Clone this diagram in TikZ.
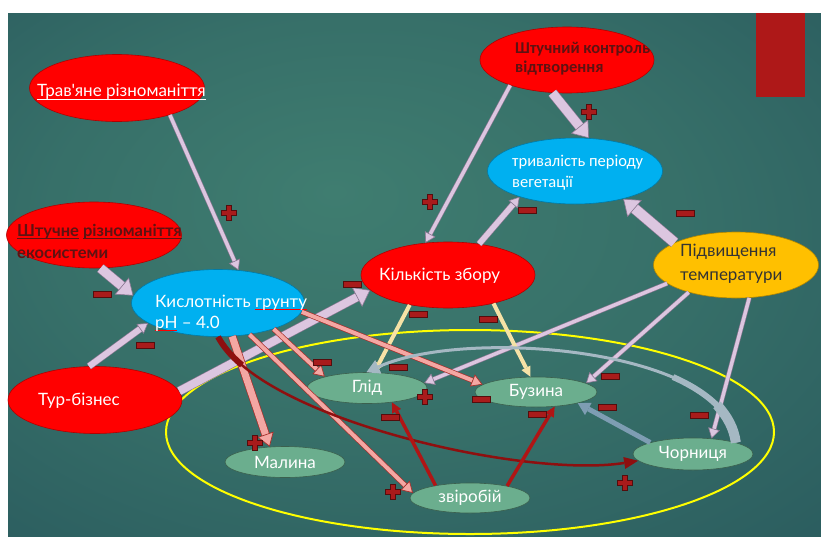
\documentclass[tikz,border=0pt]{standalone}
\usepackage{fontspec}
\usetikzlibrary{shapes.geometric,arrows.meta}
\newfontfamily\gothic{Lato}
\newfontfamily\calib{Carlito}

\definecolor{bginner}{HTML}{3F7D70}
\definecolor{bgmid}{HTML}{2A5B5E}
\definecolor{bgouter}{HTML}{163B4A}
\definecolor{ovalred}{HTML}{FF0000}
\definecolor{ovalblue}{HTML}{00B0F0}
\definecolor{ovalgold}{HTML}{FFC000}
\definecolor{ovalgreen}{HTML}{6BAE8E}
\definecolor{lav}{HTML}{DCC6E0}
\definecolor{lavedge}{HTML}{8C7893}
\definecolor{salmon}{HTML}{F4A7A3}
\definecolor{salmonedge}{HTML}{A8302C}
\definecolor{wine}{HTML}{8E0F0F}
\definecolor{brick}{HTML}{B01515}
\definecolor{straw}{HTML}{F6E2A6}
\definecolor{mist}{HTML}{A5B8C3}
\definecolor{steel}{HTML}{7E9DB3}
\definecolor{signred}{HTML}{A81B1B}
\definecolor{maroon}{HTML}{5E1212}
\definecolor{ringyellow}{HTML}{FFFF00}
\definecolor{slidered}{HTML}{AE1818}

\pgfdeclareradialshading{slidebg}{\pgfpoint{-5bp}{8bp}}{color(0bp)=(bginner); color(20bp)=(bginner!60!bgmid); color(40bp)=(bgmid); color(50bp)=(bgouter)}

% underlines: plain one and the red mark of the spell checker
\newcommand\ulword[1]{\setbox0\hbox{#1}\rlap{\rule[-2.5pt]{\wd0}{0.6pt}}\box0{}}
\newcommand\spellmark[1]{\setbox0\hbox{#1}\rlap{\textcolor{red}{\rule[-3pt]{\wd0}{0.8pt}}}\box0{}}

\tikzset{
  oval/.style={ellipse, inner sep=0pt, line width=0.6pt, minimum width=174pt, minimum height=66pt},
  redoval/.style={oval, fill=ovalred, draw=ovalred!70!black},
  blueoval/.style={oval, fill=ovalblue, draw=ovalblue!70!black},
  goldoval/.style={oval, fill=ovalgold, draw=ovalgold!70!black, minimum width=165pt},
  greenoval/.style={ellipse, inner sep=0pt, fill=ovalgreen, draw=ovalgreen!55!black, line width=0.6pt,
    minimum width=120pt, minimum height=31pt, text=white, font=\gothic\fontsize{17}{20}\selectfont},
  gothictext/.style={inner sep=0pt, text=white, align=left, font=\gothic\fontsize{17}{21}\selectfont},
  calibtext/.style={inner sep=0pt, align=left, font=\calib\fontsize{16.5}{21}\selectfont},
  lavthin/.style={draw=lavedge, double=lav, line width=0.6pt, double distance=3.5pt,
    -{Triangle[width=12pt,length=10pt,fill=lav,line width=0.6pt]}},
  lavthick/.style={lavthin, double distance=9pt, -{Triangle[width=22pt,length=15pt,fill=lav,line width=0.6pt]}},
  salmonarrow/.style={draw=salmonedge, double=salmon, line width=0.7pt, double distance=4pt,
    -{Triangle[width=13pt,length=11pt,fill=salmon,line width=0.7pt]}},
  strawarrow/.style={draw=straw, line width=4pt, -{Triangle[width=10pt,length=10pt,line width=0pt]}},
  steelarrow/.style={draw=steel, line width=5pt, -{Triangle[width=14pt,length=12pt,line width=0pt]}},
  brickarrow/.style={draw=brick, line width=3.5pt, -{Triangle[width=10pt,length=10pt,line width=0pt]}},
  winearrow/.style={draw=wine, line width=2.5pt, -{Triangle[width=12pt,length=14pt,line width=0pt]}},
  mistarrow/.style={draw=mist, line width=3pt, -{Triangle[width=15pt,length=13pt,line width=0pt]}},
  plusmark/.pic={\filldraw[fill=signred, draw=signred!50!black, line width=0.5pt]
    (-7.5,-2.5) -- (-2.5,-2.5) -- (-2.5,-7.5) -- (2.5,-7.5) -- (2.5,-2.5) -- (7.5,-2.5)
    -- (7.5,2.5) -- (2.5,2.5) -- (2.5,7.5) -- (-2.5,7.5) -- (-2.5,2.5) -- (-7.5,2.5) -- cycle;},
  minusmark/.pic={\filldraw[fill=signred, draw=signred!50!black, line width=0.5pt]
    (-9,-3) rectangle (9,3);},
}

\begin{document}
\begin{tikzpicture}[x=1pt, y=-1pt]
  \useasboundingbox (0,0) rectangle (821,536);
  \fill[white] (0,0) rectangle (821,536);
  \shade[shading=slidebg] (8,13) rectangle (821,536);
  \fill[slidered] (756,13) rectangle (805,97);

  % the yellow ring round the plants
  \draw[ringyellow, line width=2pt] (470,432) ellipse [x radius=304, y radius=102];

  % factors
  \node[redoval, minimum width=175pt, minimum height=67pt] (trav) at (117,88) {};
  \node[redoval, minimum width=175pt] (shtuchne) at (94,235) {};
  \node[redoval] (kontrol) at (567,60) {};
  \node[blueoval, minimum width=175pt] (tryval) at (575,171) {};
  \node[goldoval] (pidvysh) at (736,265) {};
  \node[blueoval, minimum width=173pt, minimum height=67pt] (kyslot) at (218,303) {};
  \node[redoval] (kilkist) at (448,275) {};
  \node[redoval, minimum height=67pt] (tur) at (95,400) {};

  % plants
  \node[greenoval] (glid) at (367,388) {Глід};
  \node[greenoval, minimum width=122pt, minimum height=30pt] (buzyna) at (536,392) {Бузина};
  \node[greenoval, minimum height=32pt] (chornytsia) at (693,454) {Чорниця};
  \node[greenoval] (malyna) at (285,462) {Малина};
  \node[greenoval, minimum height=30pt] (zvirobii) at (470,498) {звіробій};

  % links
  \draw[lavthin] (trav.-27) -- (kyslot.58);
  \draw[lavthick] (shtuchne.-79) -- (kyslot.175);
  \draw[lavthin, double distance=6pt] (tur.100) -- (kyslot.196);
  \draw[lavthick, double distance=8pt] (tur.6) -- (kilkist.191);
  \draw[lavthin] (kontrol.204) -- (kilkist.125);
  \draw[lavthick] (kontrol.-114) -- (tryval.67);
  \draw[lavthin, double distance=5.5pt] (kilkist.45) -- (tryval.205);
  \draw[lavthick, double distance=10pt] (pidvysh.160) -- (tryval.-30);
  \draw[lavthin] (pidvysh.195) -- (glid.5);
  \draw[lavthin] (pidvysh.210) -- (buzyna.10);
  \draw[lavthin] (pidvysh.-68) -- (chornytsia.40);
  \draw[strawarrow] (kilkist.218) -- (glid.65);
  \draw[strawarrow] (kilkist.-32) -- (buzyna.110);
  \draw[salmonarrow] (kyslot.-6) -- (buzyna.172);
  \draw[salmonarrow] (kyslot.-25) -- (glid.165);
  \draw[salmonarrow] (kyslot.-45) -- (zvirobii.175);
  \draw[salmonarrow, double distance=7pt, -{Triangle[width=17pt,length=13pt,fill=salmon,line width=0.7pt]}] (kyslot.-67) -- (malyna.135);

  % curved links, thicker where they leave their node
  \coordinate (winetail) at (242,365);
  \coordinate (mistbase) at (717,405);
  \coordinate (mistmid) at (673,377);
  \draw[wine, line width=6pt] (kyslot.-90) .. controls (223,346) and (231,356) .. (winetail);
  \draw[winearrow] (kyslot.-90) .. controls +(42,82) and +(-113,18) .. (chornytsia.187);
  \draw[mist, line width=10pt] (chornytsia.15) .. controls (734,429) and (728,417) .. (mistbase);
  \draw[mist, line width=6pt] (chornytsia.15) .. controls (733.5,415) and (709,393) .. (mistmid);
  \draw[mistarrow] (chornytsia.15) .. controls +(-5,-93) and +(102,-46) .. (glid.92);
  \draw[steelarrow] (chornytsia.165) -- (buzyna.-15);
  \draw[brickarrow] (zvirobii.160) -- (glid.-30);
  \draw[brickarrow] (zvirobii.18) -- (buzyna.-38);

  % texts of the factors
  \node[gothictext, anchor=west] (travtext) at (37,92) {\ulword{Трав'яне різноманіття}};
  \node[gothictext, anchor=west, text=maroon, font=\gothic\bfseries\fontsize{16.5}{22}\selectfont]
    (shtuchnetext) at (17,241) {\ulword{Штучне} \ulword{різноманіття}\\екосистеми};
  \node[calibtext, anchor=west, text=maroon, font=\calib\bfseries\fontsize{16.5}{19}\selectfont]
    (kontroltext) at (515,59) {Штучний контроль\\відтворення};
  \node[calibtext, anchor=west, text=white] (tryvaltext) at (512,173) {тривалість періоду\\вегетації};
  \node[gothictext, anchor=west, text=black!80, font=\gothic\fontsize{17}{24}\selectfont]
    (pidvyshtext) at (680,264) {Підвищення\\ температури};
  \node[gothictext, anchor=west] (kyslottext) at (155,313) {Кислотність \spellmark{грунту}\\\spellmark{pH} – 4.0};
  \node[gothictext, anchor=west] (kilkisttext) at (379,276) {Кількість збору};
  \node[gothictext, anchor=west] (turtext) at (38,401) {Тур-бізнес};

  % signs
  \pic at (229,213) {plusmark};
  \pic at (430,202) {plusmark};
  \pic at (589,112) {plusmark};
  \pic at (425,397) {plusmark};
  \pic at (393,492) {plusmark};
  \pic at (255,443) {plusmark};
  \pic at (625,483) {plusmark};
  \pic at (102,294) {minusmark};
  \pic at (145,345) {minusmark};
  \pic at (352,284) {minusmark};
  \pic at (527,210) {minusmark};
  \pic at (685,213) {minusmark};
  \pic at (610,376) {minusmark};
  \pic at (699,415) {minusmark};
  \pic at (418,314) {minusmark};
  \pic at (488,319) {minusmark};
  \pic at (481,399) {minusmark};
  \pic at (322,362) {minusmark};
  \pic at (398,367) {minusmark};
  \pic at (390,417) {minusmark};
  \pic at (537,414) {minusmark};
  \pic at (607,407) {minusmark};
\end{tikzpicture}
\end{document}
